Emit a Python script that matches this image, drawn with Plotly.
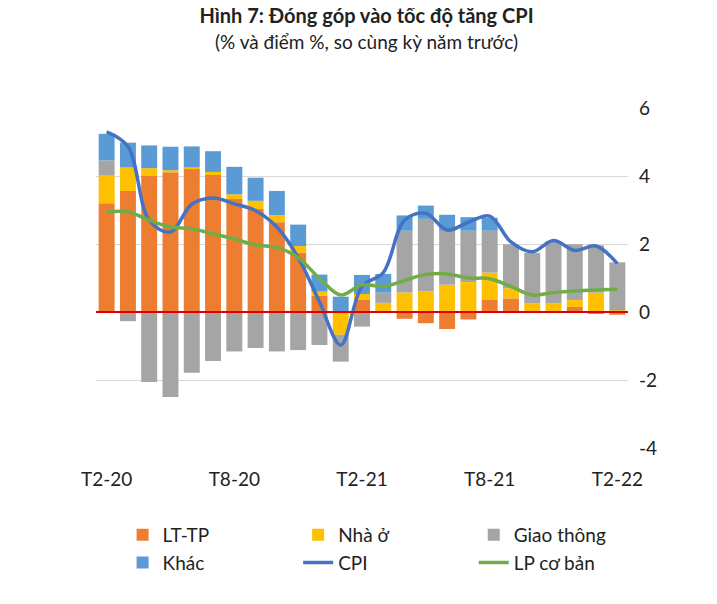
import plotly.graph_objects as go

months = ["T2-20","T3-20","T4-20","T5-20","T6-20","T7-20","T8-20","T9-20","T10-20","T11-20","T12-20","T1-21",
          "T2-21","T3-21","T4-21","T5-21","T6-21","T7-21","T8-21","T9-21","T10-21","T11-21","T12-21","T1-22","T2-22"]
lt_tp = [3.2,3.56,4.0,4.11,4.23,4.03,3.32,3.03,2.64,1.74,0.48,0.0,0.37,0.0,-0.2,-0.33,-0.5,-0.22,0.37,0.4,0.0,0.0,0.15,-0.05,-0.08]
nha_o = [0.83,0.69,0.23,0.06,0.03,0.09,0.14,0.24,0.21,0.2,0.12,-0.67,0.16,0.27,0.57,0.6,0.8,0.88,0.79,0.3,0.25,0.25,0.2,0.57,0.05]
giao_thong = [0.43,-0.27,-2.06,-2.5,-1.79,-1.44,-1.16,-1.06,-1.16,-1.12,-0.97,-0.79,-0.43,0.3,1.82,2.14,1.59,1.51,1.23,1.29,1.49,1.84,1.64,1.39,1.41]
khac = [0.78,0.73,0.67,0.69,0.61,0.61,0.81,0.68,0.71,0.63,0.5,0.45,0.56,0.55,0.45,0.39,0.47,0.4,0.38,0.0,0.0,0.0,0.0,0.0,0.0]
cpi = [5.3,4.87,2.7,2.35,3.17,3.35,3.18,2.98,2.5,1.6,0.3,-0.97,0.75,1.16,2.7,2.9,2.41,2.64,2.82,2.06,1.77,2.1,1.81,1.94,1.42]
lp_co_ban = [2.94,2.95,2.7,2.5,2.45,2.3,2.15,1.97,1.9,1.6,0.99,0.5,0.8,0.75,0.93,1.1,1.12,1.0,0.98,0.75,0.5,0.57,0.62,0.65,0.67]
tick_labels = ["T2-20","T8-20","T2-21","T8-21","T2-22"]
y_ticks = [-4, -2, 0, 2, 4, 6]

fig = go.Figure()
for name, vals, col in [("LT-TP", lt_tp, "#ED7D31"), ("Nhà ở", nha_o, "#FFC000"),
                        ("Giao thông", giao_thong, "#A5A5A5"), ("Khác", khac, "#5B9BD5")]:
    fig.add_trace(go.Bar(x=months, y=vals, name=name, marker_color=col, marker_line_width=0))
fig.add_trace(go.Scatter(x=months, y=cpi, name="CPI", mode="lines", line=dict(color="#4472C4", width=3.5, shape="spline")))
fig.add_trace(go.Scatter(x=months, y=lp_co_ban, name="LP cơ bản", mode="lines", line=dict(color="#70AD47", width=3.5, shape="spline")))

fig.add_shape(type="line", xref="paper", x0=0, x1=1, yref="y", y0=0, y1=0, line=dict(color="#E00000", width=2), layer="above")

fig.update_layout(
    width=717, height=604, barmode="relative", bargap=0.25,
    plot_bgcolor="white", paper_bgcolor="white",
    font=dict(family="Lato, Open Sans, sans-serif", size=18, color="#222"),
    title=dict(text="<b>Hình 7: Đóng góp vào tốc độ tăng CPI</b><br><span style='font-size:19px'>(% và điểm %, so cùng kỳ năm trước)</span>",
               x=0.5, xanchor="center", y=0.975, yanchor="top", font=dict(size=20)),
    margin=dict(l=88, r=97, t=100, b=164),
    xaxis=dict(tickvals=tick_labels, ticktext=tick_labels, showgrid=False, ticks="", tickfont=dict(size=19),
               ticklabelstandoff=18),
    yaxis=dict(side="right", range=[-4, 6], tickvals=y_ticks, ticktext=[str(v) for v in y_ticks],
               showgrid=True, gridcolor="#D9D9D9", zeroline=False, tickfont=dict(size=19), ticklabelstandoff=10),
    legend=dict(orientation="h", x=0.05, y=-0.2, xanchor="left", yanchor="top",
                entrywidthmode="fraction", entrywidth=0.33, font=dict(size=19), traceorder="normal",
                tracegroupgap=10),
)
fig.write_html("out.html")
